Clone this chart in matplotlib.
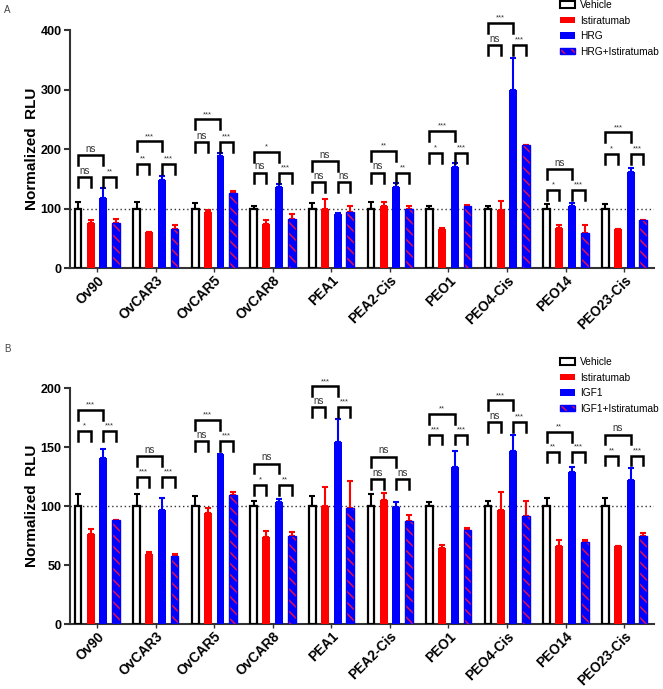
import numpy as np
import matplotlib
matplotlib.use('Agg')
import matplotlib.pyplot as plt
from matplotlib.patches import Patch

plt.rcParams['font.family'] = ['Liberation Sans', 'DejaVu Sans']
plt.rcParams['hatch.linewidth'] = 1.1

# cell lines
Lines = ["Ov90", "OvCAR3", "OvCAR5", "OvCAR8", "PEA1", "PEA2-Cis", "PEO1", "PEO4-Cis", "PEO14", "PEO23-Cis"]

# panel A - HRG stimulation (mean, upper error)
VehA = [100, 100, 100, 100, 100, 100, 100, 100, 100, 100]
VehA_err = [10.5, 10.5, 9, 5, 9, 10.5, 4, 5, 8, 8]
IstiA = [76.5, 60, 95, 74.5, 100, 105, 65, 97, 66.5, 66]
IstiA_err = [5, 1, 3, 5.5, 16.5, 6, 3, 15, 5.5, 0]
HRG = [118, 147.5, 188.5, 137, 91, 137, 169, 300, 104.5, 161.5]
HRG_err = [16, 7.5, 5.5, 3.5, 1, 6, 7.5, 53, 5.5, 6.5]
HRGIsti = [76, 65.5, 126.5, 82.5, 94, 100, 104.5, 206, 58.5, 80]
HRGIsti_err = [7, 7, 3, 8, 11, 3.5, 2, 1, 14, 0]
# significance: vehicle vs isti, stim vs stim+isti, vehicle vs stim
SigA_vi = ["ns", "**", "ns", "ns", "ns", "ns", "*", "ns", "*", "*"]
SigA_ss = ["**", "***", "***", "***", "ns", "**", "***", "***", "***", "***"]
SigA_vs = ["ns", "***", "***", "*", "ns", "**", "***", "***", "ns", "***"]
LevA_small = [153, 175, 212, 160, 144, 160.5, 194, 375, 131, 192]
LevA_big = [190, 213, 250, 195, 180, 197, 230.6, 412, 166.6, 228]

# panel B - IGF1 stimulation
VehB = [100, 100, 100, 100, 100, 100, 100, 100, 100, 100]
VehB_err = [10, 10, 8.7, 4.5, 8.5, 10, 3, 4.5, 7, 7]
IstiB = [76.3, 59.7, 94.4, 73.5, 100, 105, 64.5, 97, 66, 66]
IstiB_err = [4, 1, 4, 5.5, 16, 6, 2.5, 14.5, 5.5, 0]
IGF1 = [140.6, 97, 144, 103.4, 154, 99.4, 133.5, 147, 128.7, 122]
IGF1_err = [8, 10, 0, 2.6, 19.5, 3.6, 13.5, 13, 4.8, 10]
IGF1Isti = [88, 58, 109, 75, 98, 87.6, 80, 91.5, 69.6, 74.4]
IGF1Isti_err = [0, 1.7, 3, 3, 23, 5, 1.8, 12.5, 1.9, 2.6]
SigB_vi = ["*", "***", "ns", "*", "ns", "ns", "***", "ns", "**", "**"]
SigB_ss = ["***", "***", "***", "**", "***", "ns", "***", "***", "***", "***"]
SigB_vs = ["***", "ns", "***", "ns", "***", "ns", "**", "***", "**", "ns"]
LevB_small = [163.7, 124.8, 155.2, 117.7, 184, 122.8, 160.6, 171, 145.6, 142.8]
LevB_big = [181.7, 142.3, 173.2, 136, 201.4, 141.7, 178.3, 189.6, 162.8, 160.6]

RED = '#ff0000'
BLUE = '#0000ff'
step = 0.216
width = 0.135


def up(err):
    return [np.zeros(len(err)), err]


def bracket(ax, x1, x2, y, leg, label):
    ax.plot([x1, x1, x2, x2], [y - leg, y, y, y - leg], color='black', lw=1.8,
            clip_on=False, solid_joinstyle='miter')
    fs = 7 if label == "ns" else 5.5
    ax.annotate(label, ((x1 + x2) / 2, y), xytext=(0, 1), textcoords='offset points',
                ha='center', va='bottom', fontsize=fs, color='#333333', annotation_clip=False)


def panel(ax, veh, veh_err, isti, isti_err, stim, stim_err, comb, comb_err,
          s_vi, s_ss, s_vs, lev_small, lev_big, ymax, yticks):
    x = np.arange(len(Lines))
    xs = [x - 1.5 * step, x - 0.5 * step, x + 0.5 * step, x + 1.5 * step]
    ekw = dict(elinewidth=1.5, capthick=1.5)
    ax.bar(xs[0], veh, width * 0.85, color='white', edgecolor='black', lw=1.6, zorder=3)
    ax.errorbar(xs[0], veh, yerr=up(veh_err), fmt='none', ecolor='black', capsize=2, zorder=2, **ekw)
    ax.bar(xs[1], isti, width, color=RED, lw=0, zorder=3)
    ax.errorbar(xs[1], isti, yerr=up(isti_err), fmt='none', ecolor=RED, capsize=2, zorder=2, **ekw)
    ax.bar(xs[2], stim, width, color=BLUE, lw=0, zorder=3)
    ax.errorbar(xs[2], stim, yerr=up(stim_err), fmt='none', ecolor=BLUE, capsize=2, zorder=2, **ekw)
    ax.bar(xs[3], comb, width, facecolor=BLUE, edgecolor='#e8104a', hatch='\\\\\\', lw=0, zorder=3)
    ax.bar(xs[3], comb, width, fill=False, edgecolor=BLUE, lw=1.0, zorder=4)
    ax.errorbar(xs[3], comb, yerr=up(comb_err), fmt='none', ecolor=RED, capsize=2, zorder=2, **ekw)

    ax.axhline(100, color='#333333', ls=(0, (1, 2)), lw=1.0, zorder=1)

    leg = 0.042 * ymax
    for i in range(len(Lines)):
        bracket(ax, xs[0][i], xs[1][i], lev_small[i], leg, s_vi[i])
        bracket(ax, xs[2][i], xs[3][i], lev_small[i], leg, s_ss[i])
        bracket(ax, xs[0][i], xs[2][i], lev_big[i], leg, s_vs[i])

    ax.set_xlim(-0.46, 9.51)
    ax.set_ylim(0, ymax)
    ax.set_yticks(yticks)
    ax.set_xticks(x)
    ax.set_xticklabels(Lines, rotation=45, ha='right', rotation_mode='anchor',
                       fontsize=9.8, fontweight='bold')
    for t in ax.get_yticklabels():
        t.set_fontweight('bold')
        t.set_fontsize(9)
    ax.tick_params(axis='y', length=4, width=1.5, color='#333333', pad=2)
    ax.tick_params(axis='x', length=3, width=1, color='#333333', pad=1)
    for s in ['top', 'right']:
        ax.spines[s].set_visible(False)
    for s in ['left', 'bottom']:
        ax.spines[s].set_linewidth(1.5)
        ax.spines[s].set_color('#333333')
    ax.set_ylabel('Normalized  RLU', fontsize=11, fontweight='bold', labelpad=1)


fig = plt.figure(figsize=(6.63, 6.89), dpi=100)
axA = fig.add_axes([0.1056, 0.611, 0.881, 0.3454])
axB = fig.add_axes([0.1056, 0.0943, 0.881, 0.3425])

panel(axA, VehA, VehA_err, IstiA, IstiA_err, HRG, HRG_err, HRGIsti, HRGIsti_err,
      SigA_vi, SigA_ss, SigA_vs, LevA_small, LevA_big, 400, [0, 100, 200, 300, 400])
panel(axB, VehB, VehB_err, IstiB, IstiB_err, IGF1, IGF1_err, IGF1Isti, IGF1Isti_err,
      SigB_vi, SigB_ss, SigB_vs, LevB_small, LevB_big, 200, [0, 50, 100, 150, 200])


def handles():
    return [Patch(facecolor='white', edgecolor='black', lw=1.5),
            Patch(facecolor=RED, lw=0),
            Patch(facecolor=BLUE, lw=0),
            (Patch(facecolor=BLUE, edgecolor='#e8104a', hatch='\\\\\\', lw=0),
             Patch(fill=False, edgecolor=BLUE, lw=1.0))]


lkw = dict(loc='upper left', frameon=False, fontsize=7.3, handlelength=1.5, handleheight=0.6,
           handletextpad=0.5, labelspacing=0.55, borderaxespad=0, borderpad=0)
fig.legend(handles(), ['Vehicle', 'Istiratumab', 'HRG', 'HRG+Istiratumab'],
           bbox_to_anchor=(560 / 663, 1 - 0 / 689), **lkw)
fig.legend(handles(), ['Vehicle', 'Istiratumab', 'IGF1', 'IGF1+Istiratumab'],
           bbox_to_anchor=(560 / 663, 1 - 357 / 689), **lkw)

fig.text(0.006, 0.985, 'A', fontsize=7, color='#444444', va='center')
fig.text(0.006, 0.494, 'B', fontsize=7, color='#444444', va='center')

fig.savefig('out.png', dpi=100)
